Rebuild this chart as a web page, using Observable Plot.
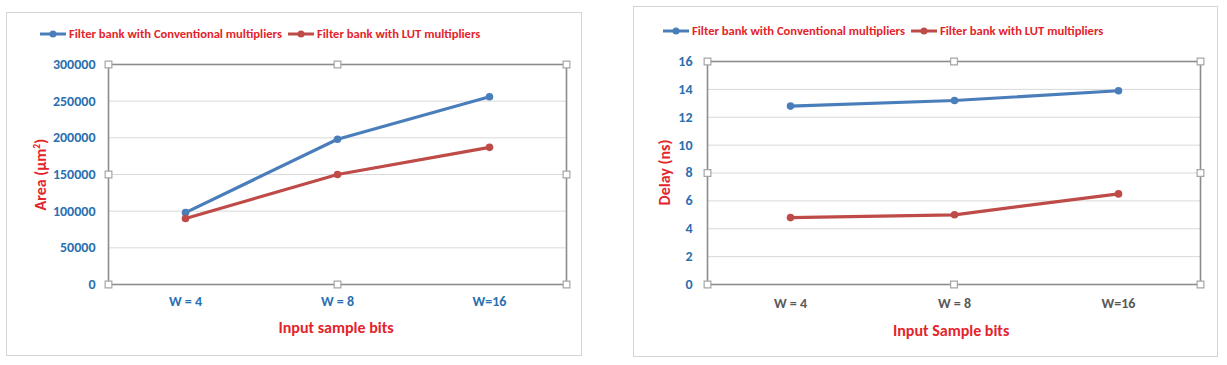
<!DOCTYPE html>
<html><head><meta charset="utf-8">
<script src="https://cdn.jsdelivr.net/npm/d3@7"></script>
<script src="https://cdn.jsdelivr.net/npm/@observablehq/plot@0.6"></script>
<style>
  body { margin:0; background:#fff; font-family: Carlito, "Roboto Condensed", sans-serif; }
  .box { position:absolute; border:1px solid #d4d4d4; box-sizing:border-box; }
  .legend { position:absolute; display:flex; align-items:center; font-weight:bold; font-size:12.6px; color:#e3242b; white-space:nowrap; }
  .legend svg { display:block; }
  .lab { position:absolute; font-weight:bold; color:#e3242b; white-space:nowrap; font-size:16px; }
</style>
</head><body>
<div id="root"></div>
<script>
// ---- data ----
const categories = ["W = 4", "W = 8", "W=16"];
const seriesNames = ["Filter bank with Conventional multipliers", "Filter bank with LUT multipliers"];
const seriesColors = ["#4a7ebb", "#be4b48"];
const areaConventional = [98000, 198000, 256000];
const areaLUT = [90000, 150000, 187000];
const delayConventional = [12.8, 13.2, 13.9];
const delayLUT = [4.8, 5.0, 6.5];
const areaTicks = [0, 50000, 100000, 150000, 200000, 250000, 300000];
const delayTicks = [0, 2, 4, 6, 8, 10, 12, 14, 16];

const root = document.getElementById("root");
const FONT = "Carlito, 'Roboto Condensed', sans-serif";
const handles = ["top-left","top","top-right","left","right","bottom-left","bottom","bottom-right"];

function rows(a, b) {
  return [
    ...categories.map((c, i) => ({cat: c, v: a[i], s: seriesNames[0]})),
    ...categories.map((c, i) => ({cat: c, v: b[i], s: seriesNames[1]}))
  ];
}

function legend(left, top) {
  const d = document.createElement("div");
  d.className = "legend";
  d.style.left = left + "px"; d.style.top = top + "px";
  seriesNames.forEach((n, i) => {
    const sw = document.createElementNS("http://www.w3.org/2000/svg", "svg");
    sw.setAttribute("width", 28); sw.setAttribute("height", 10);
    sw.innerHTML = `<line x1="1" x2="27" y1="5" y2="5" stroke="${seriesColors[i]}" stroke-width="3"/><circle cx="14" cy="5" r="3.5" fill="${seriesColors[i]}"/>`;
    sw.style.marginLeft = i ? "5px" : "0";
    sw.style.marginRight = "2px";
    d.appendChild(sw);
    const t = document.createElement("span"); t.textContent = n; d.appendChild(t);
  });
  root.appendChild(d);
}

function chart({data, ticks, left, top, width, height, mL, mR, mT, mB, xColor, xPad, yPad}) {
  const p = Plot.plot({
    width, height, marginLeft: mL, marginRight: mR, marginTop: mT, marginBottom: mB,
    style: {fontFamily: FONT, background: "transparent", overflow: "visible"},
    x: {type: "band", domain: categories, padding: 0, label: null},
    y: {domain: [ticks[0], ticks[ticks.length-1]], label: null},
    color: {domain: seriesNames, range: seriesColors},
    marks: [
      Plot.ruleY(ticks, {stroke: "#d9d9d9", strokeWidth: 1}),
      Plot.frame({stroke: "#8c8c8c", strokeWidth: 1.6}),
      Plot.axisY({ticks, tickSize: 0, tickPadding: yPad, tickFormat: d => String(d),
        fill: "#2a6fb0", fontWeight: "bold", fontSize: 14}),
      Plot.axisX({tickSize: 0, tickPadding: xPad, fill: xColor, fontWeight: "bold", fontSize: 14}),
      Plot.line(data, {x: "cat", y: "v", z: "s", stroke: "s", strokeWidth: 3.2, curve: "linear"}),
      Plot.dot(data, {x: "cat", y: "v", fill: "s", r: 3.8}),
      ...handles.map(a => Plot.dot([0], {frameAnchor: a, symbol: "square", r: 3.8, fill: "white", stroke: "#a6a6a6", strokeWidth: 1.2}))
    ]
  });
  p.style.position = "absolute";
  p.style.left = left + "px"; p.style.top = top + "px";
  root.appendChild(p);
}

function label(text, cx, cy, rotate) {
  const d = document.createElement("div");
  d.className = "lab";
  d.innerHTML = text;
  root.appendChild(d);
  const w = d.offsetWidth, h = d.offsetHeight;
  d.style.left = (cx - w/2) + "px"; d.style.top = (cy - h/2) + "px";
  if (rotate) d.style.transform = "rotate(-90deg)";
}

function box(l, t, r, b) {
  const d = document.createElement("div");
  d.className = "box";
  Object.assign(d.style, {left: l+"px", top: t+"px", width: (r-l)+"px", height: (b-t)+"px"});
  root.appendChild(d);
}

box(6, 12, 582, 356);
box(633, 6, 1218, 357);

legend(39, 26);
legend(662, 23);

chart({data: rows(areaConventional, areaLUT), ticks: areaTicks,
  left: 0, top: 40, width: 590, height: 320, mL: 108, mR: 24, mT: 24, mB: 76,
  xColor: "#2a6fb0", xPad: 12, yPad: 13});
chart({data: rows(delayConventional, delayLUT), ticks: delayTicks,
  left: 620, top: 40, width: 600, height: 320, mL: 87, mR: 20, mT: 21, mB: 76,
  xColor: "#595959", xPad: 14, yPad: 15});

label("Area (µm<sup style='font-size:0.6em'>2</sup>)", 41, 174, true);
label("Input sample bits", 336, 327, false);
label("Delay (ns)", 665, 172, true);
label("Input Sample bits", 951, 330, false);
</script>
</body></html>
